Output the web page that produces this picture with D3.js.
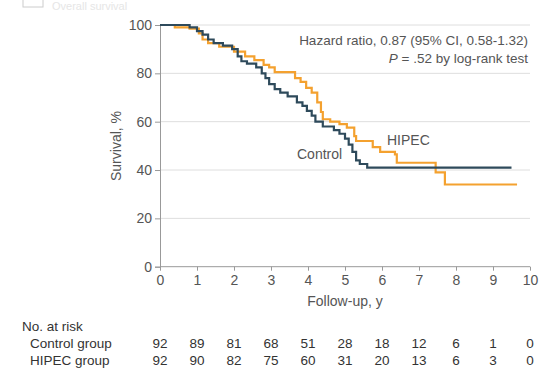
<!DOCTYPE html>
<html>
<head>
<meta charset="utf-8">
<script src="https://d3js.org/d3.v7.min.js"></script>
<style>
  body { margin: 0; background: #fff; }
  text { font-family: "Liberation Sans Narrow", "Liberation Sans", sans-serif; }
</style>
</head>
<body>
<svg id="svg" width="549" height="379"></svg>
<script>
// step data: [time (y), survival %]
var controlSteps = [[0, 100], [0.8, 99], [1.0, 97.5], [1.15, 96], [1.3, 94], [1.45, 92.5], [1.7, 91.5], [1.95, 90],
    [2.1, 87], [2.2, 85], [2.35, 84], [2.6, 82.5], [2.75, 80], [2.85, 78], [2.95, 75.5], [3.1, 73.5], [3.25, 72],
    [3.45, 70.5], [3.7, 68], [3.85, 66.5], [3.97, 64.5], [4.1, 62.5], [4.2, 60], [4.4, 58], [4.7, 56.5], [4.85, 55],
    [5.0, 53], [5.1, 50.5], [5.2, 47.5], [5.3, 44], [5.4, 42.5], [5.6, 41], [9.5, 41]];
var hipecSteps = [[0, 100], [0.4, 99], [0.8, 98.5], [1.05, 96.5], [1.15, 94], [1.3, 92.5], [1.6, 91], [2.0, 89],
    [2.3, 87], [2.55, 85.5], [2.8, 83.5], [2.95, 82.5], [3.1, 80.5], [3.65, 78], [3.8, 76.5], [3.95, 74], [4.1, 72],
    [4.25, 68], [4.35, 64], [4.4, 61], [4.6, 60], [4.85, 59], [5.05, 57.5], [5.25, 54], [5.3, 52], [5.75, 49.5],
    [5.95, 47.5], [6.35, 46.5], [6.4, 43], [7.45, 39], [7.7, 34], [9.65, 34]];
var xTicks = [0, 1, 2, 3, 4, 5, 6, 7, 8, 9, 10];
var yTicks = [0, 20, 40, 60, 80, 100];
var riskControl = [92, 89, 81, 68, 51, 28, 18, 12, 6, 1, 0];
var riskHipec = [92, 90, 82, 75, 60, 31, 20, 13, 6, 3, 0];

var svg = d3.select("#svg");
var x = d3.scaleLinear().domain([0, 10]).range([160, 530]),
    y = d3.scaleLinear().domain([0, 100]).range([266.7, 25]);

// faint header remnant at the top
svg.append("rect").attr("x", 23).attr("y", -5).attr("width", 20).attr("height", 12)
    .attr("fill", "none").attr("stroke", "#ccc");
svg.append("text").attr("x", 52).attr("y", 10).attr("font-size", 11).attr("fill", "#e6e6e6").text("Overall survival");

// gridlines
svg.selectAll(".grid").data(yTicks.filter(d => d > 0)).enter().append("line")
    .attr("x1", x(0)).attr("x2", x(10)).attr("y1", d => y(d)).attr("y2", d => y(d))
    .attr("stroke", "#dedede").attr("stroke-width", 1);

// axes
var yAxis = svg.append("g").attr("transform", "translate(" + x(0) + ",0)")
    .call(d3.axisLeft(y).tickValues(yTicks).tickSize(5).tickPadding(3));
var xAxis = svg.append("g").attr("transform", "translate(0," + y(0) + ")")
    .call(d3.axisBottom(x).tickValues(xTicks).tickSize(4).tickPadding(4));
[yAxis, xAxis].forEach(function (a) {
    a.select(".domain").attr("stroke", "#999");
    a.selectAll(".tick line").attr("stroke", "#999");
    a.selectAll(".tick text").attr("font-size", 14).attr("fill", "#555")
        .style("font-family", "'Liberation Sans Narrow', sans-serif");
});
xAxis.select(".domain").attr("d", "M" + x(0) + ",0H" + x(10));

svg.append("text").attr("transform", "translate(121,146) rotate(-90)").attr("text-anchor", "middle")
    .attr("font-size", 14).attr("fill", "#555").text("Survival, %");
svg.append("text").attr("x", (x(0) + x(10)) / 2).attr("y", 306).attr("text-anchor", "middle")
    .attr("font-size", 14).attr("fill", "#555").text("Follow-up, y");

// curves
var line = d3.line().x(d => x(d[0])).y(d => y(d[1])).curve(d3.curveStepAfter);
svg.append("path").attr("d", line(hipecSteps)).attr("fill", "none").attr("stroke", "#f4a12f").attr("stroke-width", 2.2);
svg.append("path").attr("d", line(controlSteps)).attr("fill", "none").attr("stroke", "#2e4a5b").attr("stroke-width", 2.2);

svg.append("text").attr("x", 297).attr("y", 159).attr("font-size", 14).attr("fill", "#555").text("Control");
svg.append("text").attr("x", 387).attr("y", 145).attr("font-size", 14).attr("fill", "#555").text("HIPEC");

var hr = svg.append("text").attr("x", 528).attr("y", 45).attr("text-anchor", "end").attr("font-size", 13.5).attr("fill", "#555");
hr.text("Hazard ratio, 0.87 (95% CI, 0.58-1.32)");
var pv = svg.append("text").attr("x", 528).attr("y", 63).attr("text-anchor", "end").attr("font-size", 13.5).attr("fill", "#555");
pv.append("tspan").attr("font-style", "italic").text("P");
pv.append("tspan").text(" = .52 by log-rank test");

// number at risk table
svg.append("text").attr("x", 22).attr("y", 331).attr("font-size", 13.5).attr("fill", "#333").text("No. at risk");
svg.append("text").attr("x", 30).attr("y", 348).attr("font-size", 13.5).attr("fill", "#333").text("Control group");
svg.append("text").attr("x", 30).attr("y", 365).attr("font-size", 13.5).attr("fill", "#333").text("HIPEC group");
svg.selectAll(".rc").data(riskControl).enter().append("text")
    .attr("x", (d, i) => x(xTicks[i])).attr("y", 348).attr("text-anchor", "middle")
    .attr("font-size", 13.5).attr("fill", "#333").text(d => d);
svg.selectAll(".rh").data(riskHipec).enter().append("text")
    .attr("x", (d, i) => x(xTicks[i])).attr("y", 365).attr("text-anchor", "middle")
    .attr("font-size", 13.5).attr("fill", "#333").text(d => d);
</script>
</body>
</html>
